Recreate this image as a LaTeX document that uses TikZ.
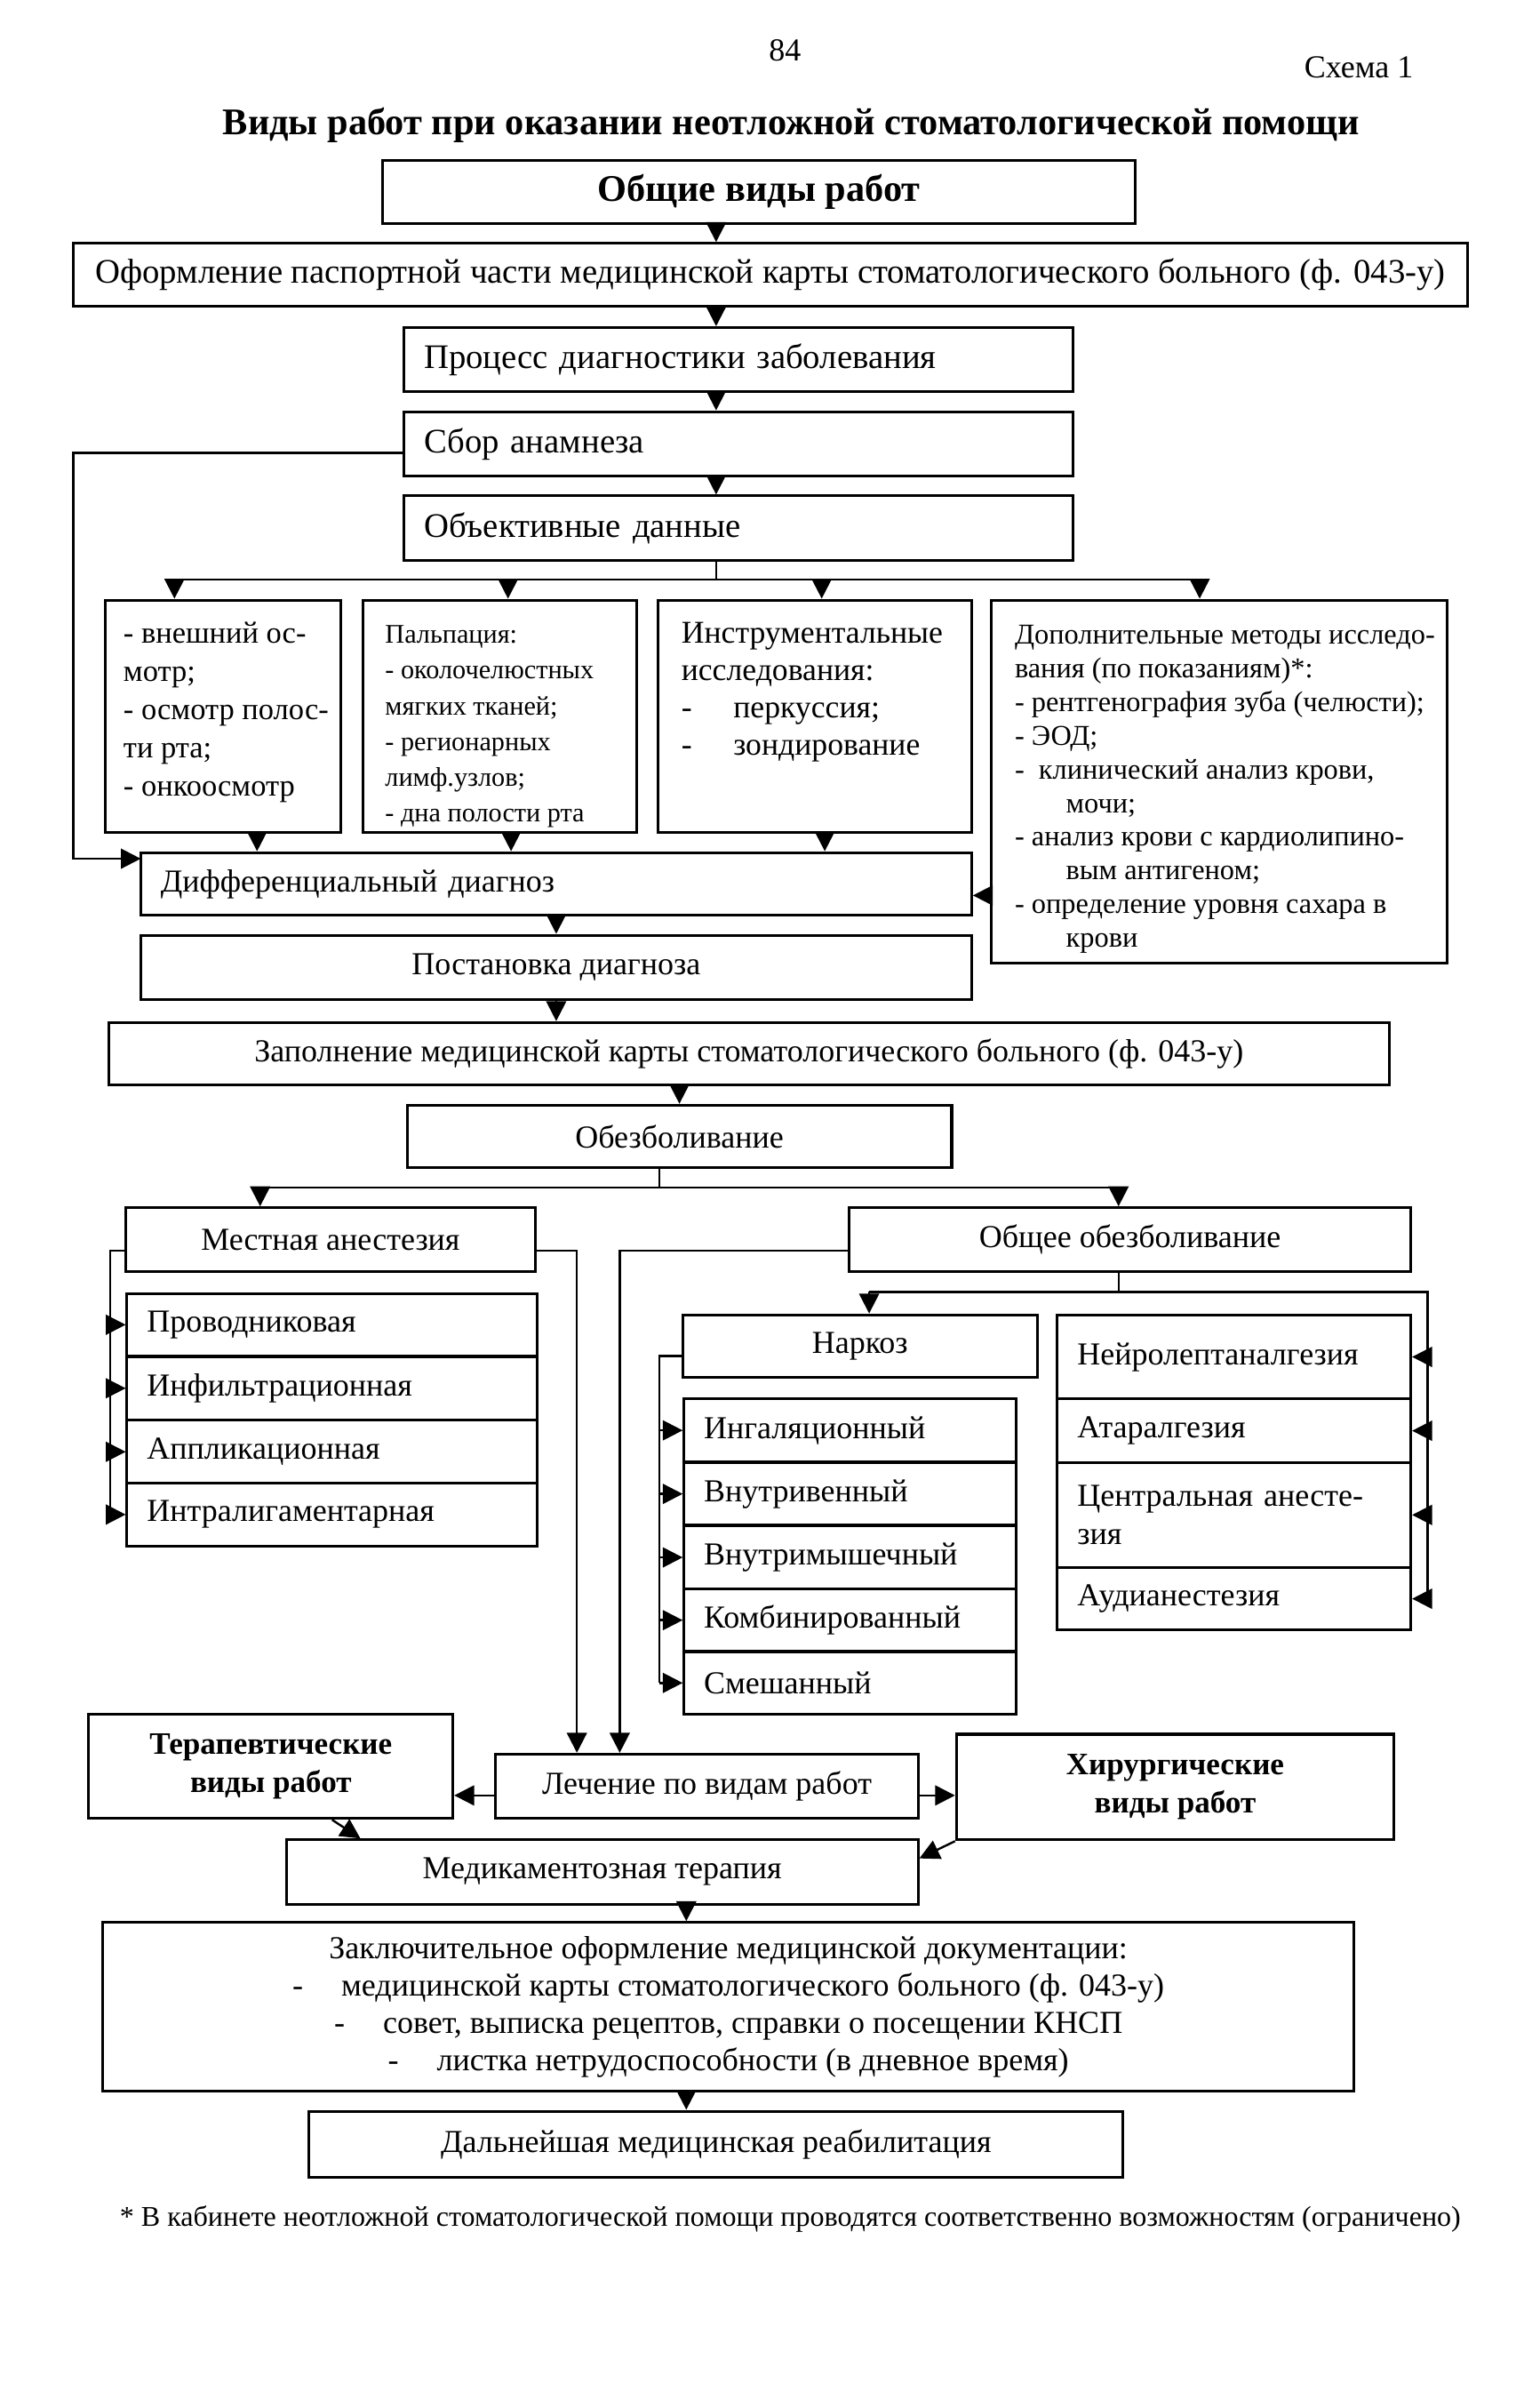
\documentclass[tikz,border=0pt]{standalone}
\usepackage{fontspec}
\setmainfont{Liberation Serif}
\usepackage{tikz}
\usetikzlibrary{arrows.meta}
\newcommand{\bodysize}{\fontsize{11.9}{14.2}\selectfont}
\newcommand{\topsize}{\fontsize{12.8}{14.2}\selectfont}
\newcommand{\looksize}{\fontsize{11.4}{14.2}\selectfont}
\newcommand{\instrsize}{\fontsize{11.8}{13.9}\selectfont}
\newcommand{\smallsize}{\fontsize{10}{13.3}\selectfont}
\newcommand{\extrasize}{\fontsize{10.7}{12.5}\selectfont}
\newcommand{\titlesize}{\fontsize{14}{16}\selectfont}
\newcommand{\boldsize}{\fontsize{11.6}{14.2}\selectfont}
\newcommand{\notesize}{\fontsize{10.6}{12}\selectfont}
\tikzstyle{stage} = [rectangle, draw, line width=1pt, inner sep=0pt, font=\bodysize]
\tikzstyle{lstage} = [stage, align=left, inner xsep=0.26cm]
\tikzstyle{cell} = [inner sep=0pt, anchor=north west, align=left, font=\bodysize]
\tikzstyle{smallcell} = [cell, font=\smallsize]

\begin{document}
\begin{tikzpicture}[->,>={Triangle[length=2.6mm,width=2.6mm]},x=0.02cm,y=-0.02cm,line width=0.8pt]
  \useasboundingbox (0,0) rectangle (1006,1568);

  \node[font=\bodysize] (page) at (513,33) {84};
  \node[font=\bodysize] (scheme) at (888,44) {Схема 1};
  \node[font=\titlesize\bfseries] (title) at (517,82) {Виды работ при оказании неотложной стоматологической помощи};

  \node[stage, minimum width=9.84cm, minimum height=0.82cm, font=\titlesize\bfseries] (common) at (496,125.5) {Общие виды работ};
  \node[stage, minimum width=18.22cm, minimum height=0.82cm, font=\topsize] (passport) at (503.5,179.5) {Оформление паспортной части медицинской карты стоматологического больного (ф. 043-у)};
  \node[lstage, text width=8.22cm, minimum height=0.84cm, font=\topsize] (process) at (482.5,235) {Процесс диагностики заболевания};
  \node[lstage, text width=8.22cm, minimum height=0.84cm, font=\topsize] (anamnesis) at (482.5,290) {Сбор анамнеза};
  \node[lstage, text width=8.22cm, minimum height=0.84cm, font=\topsize] (objective) at (482.5,345) {Объективные данные};

  \node[stage, minimum width=3.08cm, minimum height=3.04cm] (look) at (146,468) {};
  \node[stage, minimum width=3.58cm, minimum height=3.04cm] (palp) at (326.5,468) {};
  \node[stage, minimum width=4.1cm, minimum height=3.04cm] (instr) at (532.5,468) {};
  \node[stage, minimum width=5.96cm, minimum height=4.74cm] (extra) at (797,510.5) {};
  \node[cell, font=\looksize] (look text) at (80,406) {- внешний ос-\\мотр;\\- осмотр полос-\\ти рта;\\- онкоосмотр};
  \node[smallcell] (palp text) at (251,408) {Пальпация:\\- околочелюстных\\мягких тканей;\\- регионарных\\лимф.узлов;\\- дна полости рта};
  \node[cell, font=\instrsize] (instr text) at (444.6,406) {Инструментальные\\исследования:\\\makebox[0.68cm][l]{-}перкуссия;\\\makebox[0.68cm][l]{-}зондирование};
  \node[smallcell, font=\extrasize] (extra text) at (662.5,408) {Дополнительные методы исследо-\\вания (по показаниям)*:\\- рентгенография зуба (челюсти);\\- ЭОД;\\-~~клинический анализ крови,\\\hspace*{0.67cm}мочи;\\- анализ крови с кардиолипино-\\\hspace*{0.67cm}вым антигеном;\\- определение уровня сахара в\\\hspace*{0.67cm}крови};

  \node[lstage, text width=10.34cm, minimum height=0.82cm] (diff) at (363.5,577.5) {Дифференциальный диагноз};
  \node[stage, minimum width=10.86cm, minimum height=0.84cm] (diagnosis) at (363.5,632) {Постановка диагноза};
  \node[stage, minimum width=16.74cm, minimum height=0.82cm] (record) at (489.5,688.5) {Заполнение медицинской карты стоматологического больного (ф. 043-у)};
  \node[stage, minimum width=7.12cm, minimum height=0.82cm] (anesthesia) at (444,742.5) {Обезболивание};
  \node[stage, minimum width=5.36cm, minimum height=0.84cm] (local) at (216,810) {Местная анестезия};
  \node[stage, minimum width=7.34cm, minimum height=0.84cm] (general) at (738.5,810) {Общее обезболивание};

  \foreach \n/\y/\t in {1/865.5/Проводниковая, 2/907/Инфильтрационная, 3/948.5/Аппликационная, 4/989.5/Интралигаментарная}
    \node[lstage, text width=4.84cm, minimum height=0.82cm] (local\n) at (217,\y) {\t};

  \node[stage, minimum width=4.64cm, minimum height=0.82cm] (narcosis) at (562,879.5) {Наркоз};
  \foreach \n/\y/\t in {1/934.5/Ингаляционный, 2/976/Внутривенный, 3/1017.5/Внутримышечный, 4/1058.5/Комбинированный, 5/1099.5/Смешанный}
    \node[lstage, text width=3.82cm, minimum height=0.82cm] (narc\n) at (555.5,\y) {\t};

  \node[lstage, text width=4.1cm, minimum height=1.1cm] (nla1) at (806.5,886.5) {Нейролептаналгезия};
  \node[lstage, text width=4.1cm, minimum height=0.83cm] (nla2) at (806.5,934.75) {Атаралгезия};
  \node[lstage, text width=4.1cm, minimum height=1.37cm] (nla3) at (806.5,989.75) {Центральная анесте-\\зия};
  \node[lstage, text width=4.1cm, minimum height=0.82cm] (nla4) at (806.5,1044.5) {Аудианестезия};

  \node[stage, minimum width=4.76cm, minimum height=1.36cm, font=\boldsize\bfseries, align=center] (therapy) at (177,1154) {Терапевтические\\виды работ};
  \node[stage, minimum width=5.52cm, minimum height=0.84cm] (treat) at (462,1167) {Лечение по видам работ};
  \node[stage, minimum width=5.72cm, minimum height=1.38cm, font=\boldsize\bfseries, align=center] (surgery) at (768,1167.5) {Хирургические\\виды работ};
  \node[stage, minimum width=8.26cm, minimum height=0.84cm] (drugs) at (393.5,1223) {Медикаментозная терапия};
  \node[stage, minimum width=16.36cm, minimum height=2.2cm, align=center, font=\fontsize{11.9}{13.9}\selectfont] (final) at (476,1311) {Заключительное оформление медицинской документации:\\-\hspace{0.5cm}медицинской карты стоматологического больного (ф. 043-у)\\-\hspace{0.5cm}совет, выписка рецептов, справки о посещении КНСП\\-\hspace{0.5cm}листка нетрудоспособности (в дневное время)};
  \node[stage, minimum width=10.64cm, minimum height=0.87cm] (rehab) at (468,1401) {Дальнейшая медицинская реабилитация};
  \node[font=\notesize] (note) at (516.5,1449.5) {* В кабинете неотложной стоматологической помощи проводятся соответственно возможностям (ограничено)};

  \coordinate (axis) at (468,0);
  \path (common.south -| axis) edge (passport.north -| axis);
  \path (passport.south -| axis) edge (process.north -| axis);
  \path (process.south -| axis) edge (anamnesis.north -| axis);
  \path (anamnesis.south -| axis) edge (objective.north -| axis);

  \coordinate (split) at (468,378.5);
  \coordinate (bar west) at (114,378.5);
  \coordinate (bar east) at (784,378.5);
  \draw[-] (objective.south -| axis) -- (split);
  \draw[-] (bar west) -- (bar east);
  \foreach \n/\x in {look/114, palp/332, instr/537, extra/784} {
    \coordinate (drop-\n) at (\x,378.5);
    \draw[->] (drop-\n) -- (drop-\n |- \n.north);
  }
  \foreach \n/\x in {look/168, palp/334, instr/539} {
    \coordinate (rise-\n) at (\x,0);
    \draw[->] (\n.south -| rise-\n) -- (diff.north -| rise-\n);
  }
  \coordinate (fb) at (48,296);
  \coordinate (diffin) at (92,561);
  \draw[->] (fb -| anamnesis.west) -- (fb) |- (diffin);
  \coordinate (extraout) at (648,585);
  \path (extra.west |- extraout) edge (diff.east |- extraout);

  \path (diff.south) edge (diagnosis.north);
  \path (diagnosis.south) edge (diagnosis.south |- record.north);
  \path (record.south -| anesthesia.north) edge (anesthesia.north);

  \coordinate (anbar) at (431,776);
  \coordinate (anL) at (170,776);
  \coordinate (anR) at (731,776);
  \draw[-] (anesthesia.south -| anbar) -- (anbar);
  \draw[-] (anL) -- (anR);
  \draw[->] (anL) -- (anL |- local.north);
  \draw[->] (anR) -- (anR |- general.north);

  \coordinate (locbus) at (72,817);
  \draw[-] (local.west |- locbus) -- (locbus) -- (locbus |- local4.west);
  \foreach \n in {1,2,3,4}
    \draw[->] (locbus |- local\n.west) -- (local\n.west);
  \coordinate (locright) at (377,817);
  \draw[->] (local.east |- locright) -- (locright) -- (locright |- treat.north);
  \coordinate (genleft) at (405,817);
  \draw[->] (general.west |- genleft) -- (genleft) -- (genleft |- treat.north);

  \coordinate (genbar) at (731,844);
  \coordinate (narkdrop) at (568,844);
  \coordinate (nlabus) at (933,844);
  \draw[-] (general.south -| genbar) -- (genbar);
  \draw[-] (narkdrop) -- (nlabus) -- (nlabus |- nla4.east);
  \draw[->] (narkdrop) -- (narkdrop |- narcosis.north);
  \foreach \n in {1,2,3,4}
    \draw[->] (nlabus |- nla\n.east) -- (nla\n.east);
  \coordinate (narbus) at (431,886);
  \draw[-] (narcosis.west |- narbus) -- (narbus) -- (narbus |- narc5.west);
  \foreach \n in {1,2,3,4,5}
    \draw[->] (narbus |- narc\n.west) -- (narc\n.west);

  \coordinate (sides) at (0,1173);
  \path (treat.west |- sides) edge (therapy.east |- sides);
  \path (treat.east |- sides) edge (surgery.west |- sides);
  \draw[->] ([xshift=0.8cm]therapy.south) -- ([xshift=-3.16cm]drugs.north);
  \draw[->] (surgery.south west) -- ([yshift=-0.26cm]drugs.north east);

  \coordinate (lowaxis) at (448.5,0);
  \path (drugs.south -| lowaxis) edge (final.north -| lowaxis);
  \path (final.south -| lowaxis) edge (rehab.north -| lowaxis);
\end{tikzpicture}
\end{document}
